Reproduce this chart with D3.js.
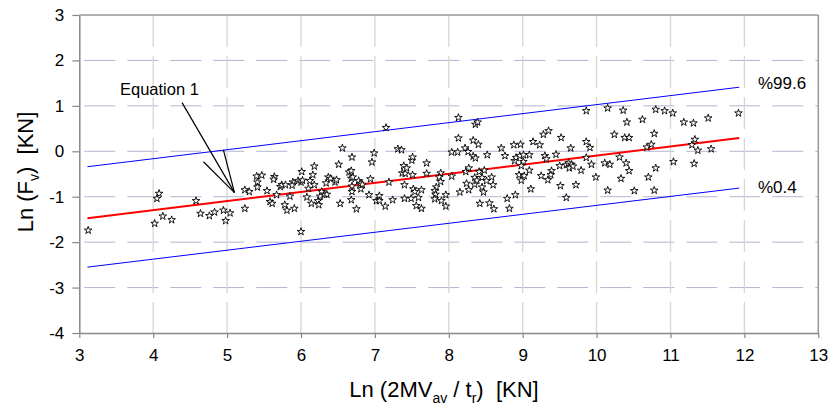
<!DOCTYPE html>
<html>
<head>
<meta charset="utf-8">
<script src="https://cdn.jsdelivr.net/npm/d3@7"></script>
<style>
  body { margin: 0; background: #fff; }
  text { font-family: "Liberation Sans", Arial, sans-serif; white-space: pre; }
</style>
</head>
<body>
<div id="chart"></div>
<script>
// observed points: [ln(2MVav/tr), ln(Fv)]
var points = [
 [3.12,-1.74],[4.08,-0.93],[4.05,-1.04],[4.13,-1.43],[4.02,-1.59],[4.25,-1.51],[4.58,-1.09],
 [4.64,-1.37],[4.76,-1.42],[4.83,-1.34],[4.95,-1.30],[5.04,-1.36],[4.98,-1.53],[5.24,-1.26],[5.24,-0.85],[5.30,-0.89],
 [5.40,-0.55],[5.47,-0.53],[5.41,-0.68],[5.41,-0.79],[5.54,-0.87],[5.64,-0.56],[5.63,-0.62],[5.58,-1.11],[5.61,-1.15],
 [5.67,-0.96],[5.72,-0.78],[5.74,-0.74],[5.79,-0.74],[5.78,-1.18],[5.81,-1.30],[5.85,-0.99],[5.89,-0.68],[5.88,-0.75],
 [5.91,-1.26],[5.96,-0.65],[6.00,-0.68],[6.01,-0.45],[6.02,-0.64],[6.08,-1.01],[6.10,-0.82],[6.12,-0.65],[6.14,-1.15],
 [6.16,-0.52],[6.18,-0.33],[6.18,-0.74],[6.00,-1.77],
 [6.23,-1.09],[6.24,-1.18],[6.26,-0.99],[6.28,-0.89],[6.32,-0.95],[6.35,-0.95],[6.34,-0.70],[6.37,-0.57],[6.40,-0.60],
 [6.46,-0.68],[6.48,-0.63],[6.51,-0.29],[6.56,0.07],[6.53,-1.15],[6.65,-0.46],[6.68,-0.43],[6.69,-0.13],[6.68,-0.60],
 [6.70,-0.57],[6.69,-0.77],[6.69,-0.89],[6.68,-1.07],[6.75,-1.27],[6.78,-0.65],[6.80,-0.71],[6.81,-0.83],[6.83,-0.73],
 [6.94,-0.61],[6.92,-0.96],[6.96,-0.24],[6.99,-0.04],[7.02,-1.09],[7.06,-0.98],[7.06,-1.09],[7.14,-1.21],[7.15,0.52],
 [7.19,-0.68],[7.24,-1.07],[7.31,0.05],[7.36,0.03],[7.39,-0.32],[7.37,-0.48],[7.41,-0.49],[7.43,-0.37],[7.40,-0.74],
 [7.40,-1.04],[7.49,-1.04],[7.50,-0.20],[7.51,-0.13],[7.51,-0.52],[7.52,-0.83],[7.54,-0.89],[7.56,-1.20],[7.59,-1.02],
 [7.63,-1.26],[7.63,-0.85],[7.70,-0.26],[7.70,-0.49],
 [8.13,0.74],[8.36,0.59],[8.39,0.64],[8.13,0.29],[8.33,0.24],[8.40,0.15],[8.04,-0.02],[8.12,-0.02],[8.22,0.07],
 [8.26,-0.01],[8.33,-0.11],[8.36,-0.15],[8.52,-0.08],[8.71,0.07],[8.76,-0.10],[8.88,0.14],[8.97,0.15],[8.89,-0.21],
 [8.91,-0.14],[8.96,-0.10],[9.01,-0.08],[9.09,-0.08],[9.01,-0.23],[8.98,-0.32],[9.14,0.21],[9.23,0.14],[9.28,0.37],
 [9.09,-0.42],[8.95,-0.52],[9.02,-0.54],[8.98,-0.64],[9.25,-0.54],[9.11,-0.83],[8.90,-0.96],[8.79,-1.04],[8.82,-1.26],
 [8.61,-1.27],[8.55,-1.14],[8.42,-1.15],[7.89,-0.48],[7.87,-0.57],[7.89,-0.67],[7.83,-0.79],[7.81,-0.87],[7.82,-0.95],
 [7.81,-1.05],[7.90,-1.09],[7.96,-0.96],[7.96,-1.21],[8.04,-0.55],[8.15,-0.90],[8.23,-0.45],[8.27,-0.37],[8.24,-0.71],
 [8.27,-0.85],[8.35,-0.58],[8.35,-0.73],[8.38,-0.64],[8.41,-0.45],[8.45,-0.58],[8.45,-0.79],[8.47,-0.90],[8.48,-0.42],
 [8.51,-0.65],[8.58,-0.57],[8.60,-0.74],
 [9.86,0.89],[10.15,0.95],[10.36,0.90],[10.80,0.92],[10.41,0.64],[10.62,0.70],[10.78,0.39],[10.24,0.37],[10.38,0.30],
 [10.44,0.30],[9.35,0.45],[9.52,0.30],[9.86,0.21],[9.91,0.08],[9.65,0.07],[9.30,-0.10],[9.32,-0.17],[9.45,-0.07],
 [10.68,0.09],[10.74,0.15],[9.86,-0.14],[10.31,-0.13],[10.40,-0.26],[10.11,-0.26],[10.18,-0.29],[9.93,-0.29],[9.50,-0.32],
 [9.59,-0.30],[9.62,-0.26],[9.66,-0.29],[9.63,-0.37],[9.68,-0.33],[9.79,-0.42],[9.39,-0.43],[9.38,-0.52],[9.34,-0.63],
 [10.44,-0.43],[10.80,-0.37],[9.99,-0.57],[10.33,-0.60],[10.70,-0.57],[9.51,-0.76],[9.72,-0.74],[10.15,-0.86],[10.51,-0.87],
 [10.78,-0.86],[9.59,-1.02],
 [10.92,0.89],[11.03,0.84],[11.18,0.64],[11.31,0.62],[11.51,0.73],[11.92,0.84],[11.33,0.26],[11.29,0.14],[11.37,0.02],
 [11.55,0.05],[11.04,-0.23],[11.32,-0.27]
];

// fitted line (Equation 1) and the 99.6% / 0.4% bounds
var fitLine   = [[3.11,-1.475],[11.93,0.29]];
var upperLine = [[3.11,-0.34],[11.93,1.41]];
var lowerLine = [[3.11,-2.55],[11.93,-0.81]];

// pointer from "Equation 1" label
var eqTip = [5.10,-0.91];
var eqTails = [[4.39,1.07],[4.95,0.03],[4.68,-0.23]];

var xTicks = [3,4,5,6,7,8,9,10,11,12,13];
var yTicks = [3,2,1,0,-1,-2,-3,-4];

var W = 829, H = 412;
var plotL = 79.3, plotR = 818.3, plotT = 15, plotB = 333;

var svg = d3.select("#chart").append("svg")
    .attr("width", W).attr("height", H);

var x = d3.scaleLinear().domain([3,13]).range([plotL,plotR]);
var y = d3.scaleLinear().domain([-4,3]).range([plotB,plotT]);

// grid
svg.append("g").selectAll("line")
    .data(yTicks.filter(function(d){return d>-4 && d<3;}))
    .enter().append("line")
    .attr("x1", plotL).attr("x2", plotR)
    .attr("y1", function(d){return y(d);}).attr("y2", function(d){return y(d);})
    .style("stroke", "#b4b4d2").style("stroke-width", 1)
    .style("stroke-dasharray", "31,12").style("stroke-dashoffset", -5);

svg.append("g").selectAll("line")
    .data(xTicks.filter(function(d){return d>3 && d<13;}))
    .enter().append("line")
    .attr("x1", function(d){return x(d);}).attr("x2", function(d){return x(d);})
    .attr("y1", plotT).attr("y2", plotB)
    .style("stroke", "#d9d6cc").style("stroke-width", 1.3)
    .style("stroke-dasharray", "32,9");

// frame top/right
svg.append("line").attr("x1", plotL).attr("x2", plotR).attr("y1", plotT).attr("y2", plotT)
    .style("stroke", "#999").style("stroke-width", 1.5);
svg.append("line").attr("x1", plotR).attr("x2", plotR).attr("y1", plotT).attr("y2", plotB)
    .style("stroke", "#999").style("stroke-width", 1.5);

// axes
var fmt = function(d){ return String(d); };
var yAxis = svg.append("g").attr("transform", "translate(" + plotL + ",0)")
    .call(d3.axisLeft(y).tickValues(yTicks).tickFormat(fmt).tickSize(7).tickSizeOuter(0).tickPadding(8));
var xAxis = svg.append("g").attr("transform", "translate(0," + plotB + ")")
    .call(d3.axisBottom(x).tickValues(xTicks).tickFormat(fmt).tickSize(5).tickSizeOuter(0).tickPadding(11));
[xAxis, yAxis].forEach(function(a){
    a.select(".domain").style("stroke", "#888").style("stroke-width", 1.5);
    a.selectAll(".tick line").style("stroke", "#888").style("stroke-width", 1.2);
    a.selectAll(".tick text").style("font-size", "17px").style("fill", "#000")
        .style("font-family", "Liberation Sans, Arial, sans-serif");
});

// lines
var line = d3.line().x(function(d){return x(d[0]);}).y(function(d){return y(d[1]);});
svg.append("path").datum(upperLine).attr("d", line)
    .style("fill", "none").style("stroke", "#0000ff").style("stroke-width", 1);
svg.append("path").datum(lowerLine).attr("d", line)
    .style("fill", "none").style("stroke", "#0000ff").style("stroke-width", 1);
svg.append("path").datum(fitLine).attr("d", line)
    .style("fill", "none").style("stroke", "#ff0000").style("stroke-width", 2);

// pointers
svg.append("g").selectAll("line").data(eqTails).enter().append("line")
    .attr("x1", function(d){return x(d[0]);}).attr("y1", function(d){return y(d[1]);})
    .attr("x2", x(eqTip[0])).attr("y2", y(eqTip[1]))
    .style("stroke", "#000").style("stroke-width", 1.2);

// stars
var star = d3.symbol().type(d3.symbolStar).size(18);
svg.append("g").selectAll("path").data(points).enter().append("path")
    .attr("d", star)
    .attr("transform", function(d){return "translate(" + x(d[0]) + "," + y(d[1]) + ")";})
    .style("fill", "#fff").style("stroke", "#000").style("stroke-width", 0.9);

// labels
svg.append("text").attr("x", 120).attr("y", 95).style("font-size", "16.5px").text("Equation 1");
svg.append("text").attr("x", 758).attr("y", 89).style("font-size", "17px").text("%99.6");
svg.append("text").attr("x", 758).attr("y", 192.5).style("font-size", "17px").text("%0.4");

// axis titles
var yt = svg.append("text").attr("transform", "translate(33,172) rotate(-90)")
    .attr("text-anchor", "middle").style("font-size", "22px");
yt.append("tspan").text("Ln (F");
yt.append("tspan").attr("dy", 6).style("font-size", "14px").text("v");
yt.append("tspan").attr("dy", -6).text(")  [KN]");

var xt = svg.append("text").attr("x", 444).attr("y", 397)
    .attr("text-anchor", "middle").style("font-size", "22px");
xt.append("tspan").text("Ln (2MV");
xt.append("tspan").attr("dy", 6).style("font-size", "14px").text("av");
xt.append("tspan").attr("dy", -6).text(" / t");
xt.append("tspan").attr("dy", 6).style("font-size", "14px").text("r");
xt.append("tspan").attr("dy", -6).text(")  [KN]");
</script>
</body>
</html>
